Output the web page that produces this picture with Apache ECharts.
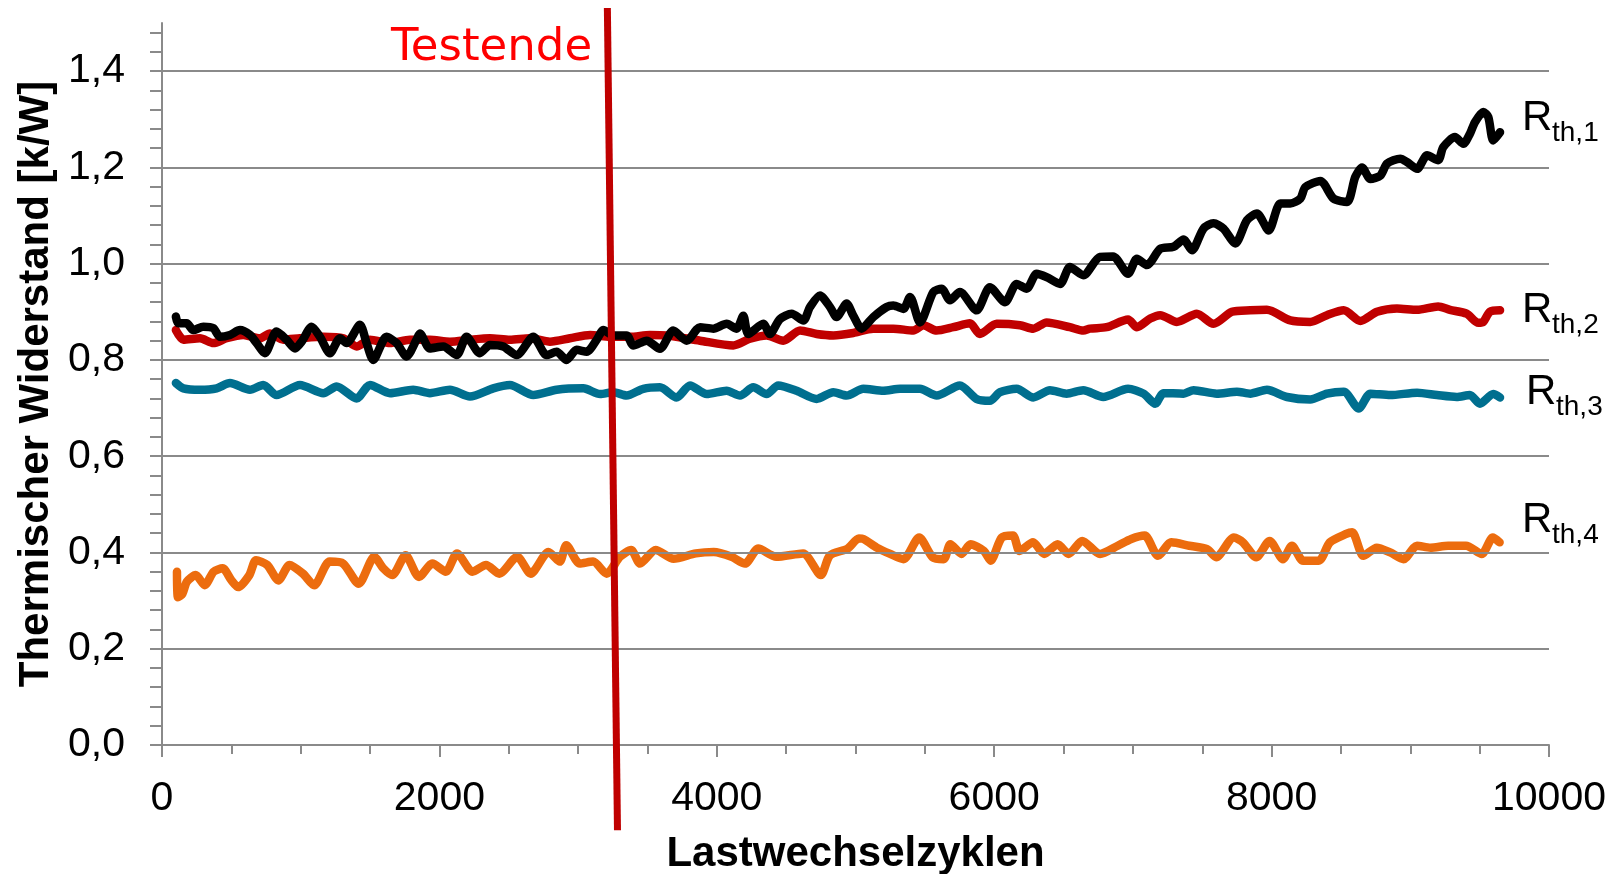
<!DOCTYPE html>
<html><head><meta charset="utf-8">
<script src="https://cdn.jsdelivr.net/npm/echarts@6/dist/echarts.min.js"></script>
<style>html,body{margin:0;padding:0;background:#fff}#c{width:1621px;height:874px}</style>
</head><body><div id="c"></div>
<script>
// ---- data ----
const xTickValues = [0, 2000, 4000, 6000, 8000, 10000];
const yMajorTicks = [0, 0.2, 0.4, 0.6, 0.8, 1.0, 1.2, 1.4];
const yMinorPerMajor = 5; // minor tick spacing 0.04
const seriesNames = ['R_th,1', 'R_th,2', 'R_th,3', 'R_th,4'];

const rth1 = [[100,0.89],[118,0.876],[178,0.876],[226,0.862],[298,0.869],[370,0.866],[418,0.848],[490,0.852],[562,0.862],[634,0.852],[682,0.835],[742,0.814],[826,0.859],[898,0.842],[959,0.824],[1007,0.838],[1079,0.869],[1139,0.848],[1211,0.814],[1283,0.845],[1331,0.835],[1427,0.873],[1475,0.835],[1523,0.8],[1619,0.848],[1691,0.835],[1763,0.807],[1835,0.842],[1859,0.855],[1931,0.824],[2028,0.828],[2124,0.81],[2196,0.848],[2292,0.814],[2364,0.831],[2460,0.828],[2557,0.81],[2677,0.848],[2773,0.81],[2845,0.817],[2917,0.8],[2989,0.821],[3062,0.817],[3134,0.842],[3182,0.862],[3254,0.851],[3350,0.851],[3398,0.83],[3494,0.84],[3590,0.823],[3686,0.861],[3783,0.84],[3879,0.868],[3975,0.865],[4071,0.875],[4143,0.865],[4191,0.892],[4227,0.854],[4335,0.875],[4383,0.854],[4455,0.885],[4540,0.896],[4624,0.882],[4672,0.91],[4744,0.934],[4816,0.91],[4864,0.889],[4936,0.917],[4984,0.892],[5044,0.865],[5128,0.889],[5225,0.91],[5273,0.913],[5345,0.906],[5393,0.931],[5465,0.878],[5561,0.941],[5621,0.948],[5681,0.924],[5753,0.941],[5873,0.903],[5969,0.951],[6078,0.92],[6162,0.958],[6234,0.948],[6306,0.979],[6378,0.972],[6475,0.958],[6546,0.993],[6642,0.976],[6763,1.014],[6857,1.015],[6965,0.979],[7029,1.01],[7101,0.997],[7197,1.031],[7293,1.035],[7365,1.05],[7426,1.028],[7509,1.073],[7581,1.084],[7653,1.073],[7738,1.042],[7822,1.09],[7894,1.104],[7979,1.069],[8063,1.125],[8135,1.125],[8207,1.135],[8243,1.159],[8351,1.172],[8447,1.135],[8544,1.128],[8603,1.18],[8652,1.2],[8712,1.176],[8784,1.183],[8833,1.208],[8928,1.218],[8977,1.211],[9049,1.197],[9121,1.225],[9201,1.215],[9237,1.242],[9322,1.263],[9382,1.249],[9430,1.27],[9466,1.294],[9526,1.315],[9562,1.305],[9598,1.256],[9647,1.273]];

const rth2 = [[100,0.862],[154,0.842],[274,0.845],[370,0.835],[466,0.845],[586,0.852],[706,0.845],[778,0.855],[874,0.842],[995,0.845],[1163,0.848],[1307,0.845],[1403,0.828],[1499,0.842],[1643,0.835],[1787,0.842],[1931,0.842],[2076,0.838],[2220,0.842],[2364,0.845],[2508,0.842],[2653,0.845],[2797,0.838],[2941,0.845],[3086,0.852],[3230,0.848],[3374,0.848],[3518,0.852],[3638,0.851],[3879,0.84],[4119,0.83],[4239,0.844],[4359,0.851],[4479,0.84],[4600,0.861],[4720,0.854],[4840,0.851],[4984,0.856],[5128,0.865],[5273,0.865],[5417,0.861],[5489,0.872],[5585,0.861],[5705,0.868],[5825,0.876],[5897,0.854],[6018,0.875],[6186,0.872],[6282,0.865],[6378,0.878],[6546,0.868],[6643,0.861],[6690,0.865],[6810,0.868],[6965,0.884],[7029,0.868],[7125,0.886],[7197,0.893],[7317,0.879],[7461,0.896],[7581,0.875],[7714,0.9],[7846,0.903],[7966,0.904],[8135,0.882],[8279,0.879],[8399,0.893],[8520,0.903],[8640,0.881],[8760,0.9],[8904,0.907],[9049,0.904],[9201,0.911],[9286,0.904],[9406,0.896],[9490,0.877],[9526,0.879],[9574,0.9],[9647,0.903]];

const rth3 = [[100,0.752],[154,0.741],[274,0.738],[394,0.741],[490,0.752],[634,0.738],[730,0.748],[826,0.727],[995,0.748],[1163,0.731],[1259,0.745],[1403,0.72],[1499,0.748],[1643,0.731],[1811,0.738],[1931,0.731],[2076,0.738],[2220,0.724],[2388,0.741],[2508,0.748],[2677,0.727],[2845,0.738],[3038,0.741],[3158,0.729],[3254,0.733],[3350,0.726],[3470,0.74],[3590,0.743],[3710,0.722],[3807,0.747],[3927,0.729],[4071,0.736],[4167,0.726],[4263,0.743],[4359,0.729],[4443,0.747],[4576,0.736],[4720,0.719],[4840,0.733],[4936,0.726],[5056,0.74],[5201,0.736],[5321,0.74],[5465,0.74],[5585,0.726],[5753,0.747],[5873,0.719],[5969,0.715],[6042,0.733],[6162,0.74],[6282,0.722],[6402,0.737],[6522,0.73],[6642,0.737],[6786,0.723],[6965,0.74],[7077,0.73],[7161,0.709],[7221,0.731],[7365,0.73],[7437,0.737],[7605,0.73],[7750,0.734],[7846,0.73],[7966,0.738],[8111,0.723],[8279,0.718],[8399,0.73],[8520,0.734],[8628,0.699],[8712,0.73],[8856,0.727],[9049,0.732],[9193,0.727],[9334,0.723],[9430,0.727],[9502,0.709],[9598,0.729],[9647,0.722]];

const rth4 = [[108,0.36],[115,0.307],[147,0.314],[179,0.339],[243,0.353],[308,0.332],[372,0.36],[437,0.367],[501,0.342],[549,0.328],[630,0.353],[678,0.384],[759,0.374],[839,0.342],[920,0.374],[1016,0.356],[1097,0.332],[1209,0.381],[1306,0.377],[1418,0.335],[1531,0.391],[1596,0.367],[1660,0.353],[1756,0.394],[1853,0.349],[1950,0.377],[2046,0.36],[2127,0.398],[2239,0.36],[2336,0.374],[2432,0.356],[2561,0.391],[2658,0.356],[2787,0.401],[2867,0.381],[2915,0.415],[3012,0.377],[3108,0.381],[3205,0.356],[3302,0.391],[3382,0.405],[3447,0.377],[3559,0.405],[3688,0.387],[3849,0.398],[3978,0.401],[4106,0.391],[4203,0.377],[4299,0.408],[4428,0.391],[4622,0.398],[4750,0.353],[4815,0.394],[4943,0.408],[5024,0.429],[5057,0.428],[5153,0.41],[5250,0.397],[5346,0.386],[5459,0.431],[5556,0.39],[5636,0.386],[5684,0.417],[5765,0.397],[5829,0.417],[5926,0.403],[5974,0.383],[6054,0.431],[6135,0.435],[6183,0.403],[6280,0.421],[6360,0.397],[6457,0.417],[6537,0.397],[6634,0.424],[6763,0.397],[6891,0.414],[6988,0.428],[7085,0.435],[7181,0.393],[7278,0.421],[7406,0.414],[7535,0.407],[7600,0.39],[7728,0.431],[7793,0.421],[7889,0.39],[7986,0.424],[8082,0.386],[8147,0.414],[8227,0.383],[8340,0.383],[8420,0.421],[8533,0.438],[8581,0.442],[8662,0.393],[8758,0.41],[8855,0.4],[8951,0.386],[9048,0.414],[9145,0.41],[9273,0.414],[9402,0.414],[9515,0.397],[9595,0.431],[9644,0.421]];

// "Testende" marker line (slightly tilted, extends beyond plot)
const testEndLine = [[3211, 1.531], [3284, -0.177]];

// ---- styles ----
const GRID = '#8a8a8a';
const COLORS = ['#000000', '#c00000', '#006f8f', '#ec6c0e'];
const yTickValues = [];
yMajorTicks.forEach(function (v) {
  for (let k = 0; k < yMinorPerMajor; k++) yTickValues.push(+(v + k * 0.2 / yMinorPerMajor).toFixed(2));
});

const chart = echarts.init(document.getElementById('c'), null, {renderer: 'canvas'});
const FONT = 'Liberation Sans, Arial, sans-serif';

function dataSeries(name, data, color, z) {
  return {
    name: name, type: 'line', data: data, showSymbol: false, symbol: 'none', smooth: 0.25,
    lineStyle: {color: color, width: 8.5, cap: 'round', join: 'round'},
    z: z, animation: false, silent: true
  };
}

function rLabel(sub, x, baseline) {
  return [
    {type: 'text', x: x, y: baseline - 15, silent: true,
     style: {text: 'R', fill: '#000', font: '42px ' + FONT, align: 'left', verticalAlign: 'middle', textAlign: 'left', textVerticalAlign: 'middle'}},
    {type: 'text', x: x + 30, y: baseline, silent: true,
     style: {text: sub, fill: '#000', font: '28px ' + FONT, align: 'left', verticalAlign: 'middle', textAlign: 'left', textVerticalAlign: 'middle'}}
  ];
}

const option = {
  backgroundColor: '#ffffff',
  animation: false,
  grid: {left: 162, right: 72, top: 23, bottom: 129, containLabel: false, outerBoundsMode: 'none'},
  xAxis: {
    type: 'value', min: 0, max: 10000, interval: 2000,
    axisLine: {show: true, onZero: false, lineStyle: {color: GRID, width: 2}},
    axisTick: {show: true, length: 12, lineStyle: {color: GRID, width: 2}},
    minorTick: {show: true, splitNumber: 4, length: 9, lineStyle: {color: GRID, width: 2}},
    axisLabel: {color: '#000', fontSize: 41, fontFamily: FONT, margin: 33, formatter: function (v) { return String(v); }},
    splitLine: {show: false},
    name: 'Lastwechselzyklen', nameLocation: 'middle', nameGap: 88,
    nameTextStyle: {color: '#000', fontSize: 42, fontWeight: 'bold', fontFamily: FONT}
  },
  yAxis: {
    type: 'value', min: 0, max: 1.5,
    axisLine: {show: true, lineStyle: {color: GRID, width: 2}},
    axisTick: {show: true, length: 12, customValues: yTickValues, lineStyle: {color: GRID, width: 2}},
    axisLabel: {color: '#000', fontSize: 41, fontFamily: FONT, margin: 37, customValues: yMajorTicks,
      formatter: function (v) { return v.toFixed(1).replace('.', ','); }},
    splitLine: {show: false},
    name: 'Thermischer Widerstand [k/W]', nameLocation: 'middle', nameGap: 103,
    nameTextStyle: {color: '#000', fontSize: 42, fontWeight: 'bold', fontFamily: FONT}
  },
  series: [
    {
      name: 'grid', type: 'line', data: [], z: 1, silent: true, animation: false,
      markLine: {
        silent: true, symbol: 'none', animation: false,
        label: {show: false},
        lineStyle: {color: GRID, width: 2, type: 'solid'},
        data: yMajorTicks.filter(function (v) { return v > 0; }).map(function (v) { return {yAxis: v}; })
      }
    },
    dataSeries(seriesNames[3], rth4, COLORS[3], 2),
    dataSeries(seriesNames[2], rth3, COLORS[2], 3),
    dataSeries(seriesNames[1], rth2, COLORS[1], 4),
    dataSeries(seriesNames[0], rth1, COLORS[0], 5),
    {
      name: 'Testende', type: 'line', data: testEndLine, showSymbol: false, symbol: 'none', clip: false,
      lineStyle: {color: '#c00000', width: 7}, z: 10, silent: true, animation: false
    }
  ],
  graphic: [
    {type: 'text', x: 391, y: 48, silent: true,
     style: {text: 'Testende', fill: '#ff0000', font: '45px DejaVu Sans, sans-serif', align: 'left', verticalAlign: 'middle', textAlign: 'left', textVerticalAlign: 'middle'}}
  ].concat(rLabel('th,1', 1522, 133), rLabel('th,2', 1522, 325), rLabel('th,3', 1526, 407), rLabel('th,4', 1522, 535))
};
chart.setOption(option);
</script>
</body></html>
